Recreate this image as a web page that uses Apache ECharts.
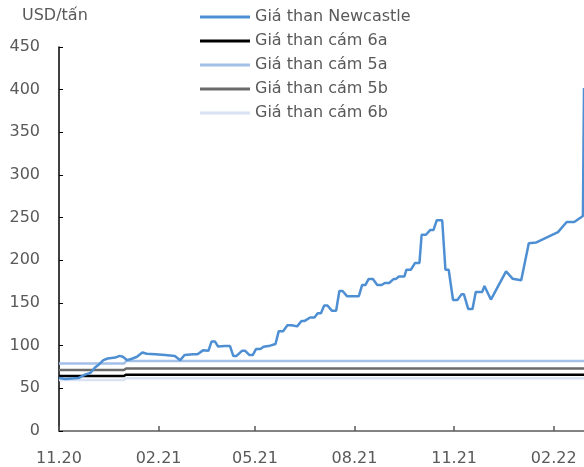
<!DOCTYPE html>
<html>
<head>
<meta charset="utf-8">
<script src="https://cdn.jsdelivr.net/npm/echarts@6/dist/echarts.min.js"></script>
<style>
  html, body { margin: 0; padding: 0; background: #fff; }
  #chart { width: 584px; height: 467px; }
</style>
</head>
<body>
<div id="chart"></div>
<script>
var seriesNames = ['Giá than Newcastle', 'Giá than cám 6a', 'Giá than cám 5a', 'Giá than cám 5b', 'Giá than cám 6b']
var xTicks = ['2020-11-01', '2021-02-01', '2021-05-01', '2021-08-01', '2021-11-01', '2022-02-01']
var xMin = '2020-11-01'
var xMax = '2022-03-01'

// Newcastle (USD/tấn)
var newcastleDates = [
  '2020-11-01', '2020-11-07', '2020-11-19', '2020-11-25', '2020-11-30', '2020-12-04', '2020-12-07', '2020-12-12',
  '2020-12-16', '2020-12-23', '2020-12-27', '2020-12-30', '2021-01-03', '2021-01-08', '2021-01-12', '2021-01-17',
  '2021-01-21', '2021-01-29', '2021-02-07', '2021-02-16', '2021-02-21', '2021-02-25', '2021-03-05', '2021-03-09',
  '2021-03-14', '2021-03-19', '2021-03-22', '2021-03-25', '2021-03-28', '2021-04-03', '2021-04-08', '2021-04-11',
  '2021-04-14', '2021-04-19', '2021-04-22', '2021-04-26', '2021-04-29', '2021-05-02', '2021-05-06', '2021-05-09',
  '2021-05-15', '2021-05-20', '2021-05-21', '2021-05-23', '2021-05-27', '2021-05-31', '2021-06-04', '2021-06-09',
  '2021-06-13', '2021-06-16', '2021-06-21', '2021-06-25', '2021-06-28', '2021-07-01', '2021-07-04', '2021-07-07',
  '2021-07-11', '2021-07-15', '2021-07-18', '2021-07-21', '2021-07-25', '2021-08-05', '2021-08-08', '2021-08-11',
  '2021-08-14', '2021-08-18', '2021-08-22', '2021-08-26', '2021-08-29', '2021-09-02', '2021-09-06', '2021-09-08',
  '2021-09-11', '2021-09-16', '2021-09-18', '2021-09-22', '2021-09-26', '2021-09-30', '2021-10-02', '2021-10-06',
  '2021-10-10', '2021-10-13', '2021-10-16', '2021-10-21', '2021-10-24', '2021-10-27', '2021-10-31', '2021-11-04',
  '2021-11-08', '2021-11-10', '2021-11-14', '2021-11-18', '2021-11-21', '2021-11-27', '2021-11-29', '2021-12-05',
  '2021-12-19', '2021-12-25', '2022-01-02', '2022-01-09', '2022-01-16', '2022-02-05', '2022-02-13', '2022-02-20',
  '2022-02-28', '2022-03-01'
]
var newcastleValues = [
  62, 61, 62, 66, 68, 74, 77, 83,
  85, 86, 88, 87, 83, 85, 87, 92,
  90.5, 90, 89, 88, 83, 89, 90, 90,
  94.5, 94, 105, 105, 99, 99.5, 99.5, 88,
  88, 94, 94, 89, 89, 96, 96, 98.7,
  100, 102, 102, 117, 117, 124, 124, 122.6,
  129, 129, 133, 133, 138, 138, 147, 147,
  141, 141, 164, 164, 158, 158, 171, 171,
  178, 178, 171, 171, 173.5, 173.5, 178, 178,
  181, 181, 189, 189, 197, 197, 230, 230,
  235.6, 235.6, 247, 247, 189, 189, 153.5, 153.5,
  160.4, 160.4, 143, 143, 163, 163, 170, 154,
  187, 178.5, 176.7, 220, 221, 233, 245, 245,
  252, 402
]

// giá than cám trong nước: đổi giá từ 01.2021
var fixedDates = ['2020-11-01', '2020-12-31', '2021-01-02', '2022-03-01']
var cam6a = [64.4, 64.4, 66, 66]
var cam5a = [79, 79, 82, 82]
var cam5b = [71.4, 71.4, 73.3, 73.3]
var cam6b = [59.8, 59.8, 61.7, 61.7]

var yMin = 0
var yMax = 450
var yStep = 50

function toTime(d) {
  var p = d.split('-')
  return new Date(+p[0], +p[1] - 1, +p[2]).getTime()
}

function pairs(dates, values) {
  return dates.map(function (d, i) { return [toTime(d), values[i]] })
}

var textColor = '#595959'
var fontFamily = 'DejaVu Sans'
var tickTimes = xTicks.map(toTime)

var chart = echarts.init(document.getElementById('chart'))
var option = {
  animation: false,
  title: {
    text: 'USD/tấn',
    left: 22,
    top: 8,
    padding: 0,
    textStyle: { fontSize: 16, fontWeight: 'normal', color: textColor, fontFamily: fontFamily }
  },
  legend: {
    orient: 'vertical',
    left: 200,
    top: 9,
    padding: 0,
    itemWidth: 50,
    itemHeight: 3,
    itemGap: 8,
    icon: 'rect',
    data: seriesNames,
    textStyle: { fontSize: 16, color: textColor, fontFamily: fontFamily }
  },
  grid: { left: 59, right: 0, top: 47, bottom: 31, containLabel: false },
  xAxis: {
    type: 'value',
    min: toTime(xMin),
    max: toTime(xMax),
    axisLine: { lineStyle: { color: '#595959', width: 1.5 } },
    axisTick: {
      inside: true,
      length: 5,
      lineStyle: { color: '#595959', width: 1.5 },
      customValues: tickTimes
    },
    axisLabel: {
      margin: 20,
      fontSize: 16,
      color: textColor,
      fontFamily: fontFamily,
      customValues: tickTimes,
      formatter: function (v) {
        var d = new Date(v)
        var m = d.getMonth() + 1
        return (m < 10 ? '0' + m : '' + m) + '.' + String(d.getFullYear()).slice(2)
      }
    },
    splitLine: { show: false }
  },
  yAxis: {
    type: 'value',
    min: yMin,
    max: yMax,
    interval: yStep,
    axisLine: { show: true, lineStyle: { color: '#000', width: 1.5 } },
    axisTick: { show: true, inside: true, length: 4, lineStyle: { color: '#000', width: 1 } },
    axisLabel: { margin: 19, fontSize: 16, color: textColor, fontFamily: fontFamily },
    splitLine: { show: false }
  },
  series: [
    {
      name: seriesNames[0], type: 'line', symbol: 'none', z: 6,
      color: '#4e8fd3', lineStyle: { color: '#4e8fd3', width: 2.5 },
      data: pairs(newcastleDates, newcastleValues)
    },
    {
      name: seriesNames[1], type: 'line', symbol: 'none', z: 5,
      color: '#000000', lineStyle: { color: '#000000', width: 2.5 },
      data: pairs(fixedDates, cam6a)
    },
    {
      name: seriesNames[2], type: 'line', symbol: 'none', z: 4,
      color: '#a3c0e8', lineStyle: { color: '#a3c0e8', width: 2.5 },
      data: pairs(fixedDates, cam5a)
    },
    {
      name: seriesNames[3], type: 'line', symbol: 'none', z: 4,
      color: '#6b6b6b', lineStyle: { color: '#6b6b6b', width: 2.5 },
      data: pairs(fixedDates, cam5b)
    },
    {
      name: seriesNames[4], type: 'line', symbol: 'none', z: 3,
      color: '#dae3f3', lineStyle: { color: '#dae3f3', width: 2.5 },
      data: pairs(fixedDates, cam6b)
    }
  ]
}
chart.setOption(option)
</script>
</body>
</html>
